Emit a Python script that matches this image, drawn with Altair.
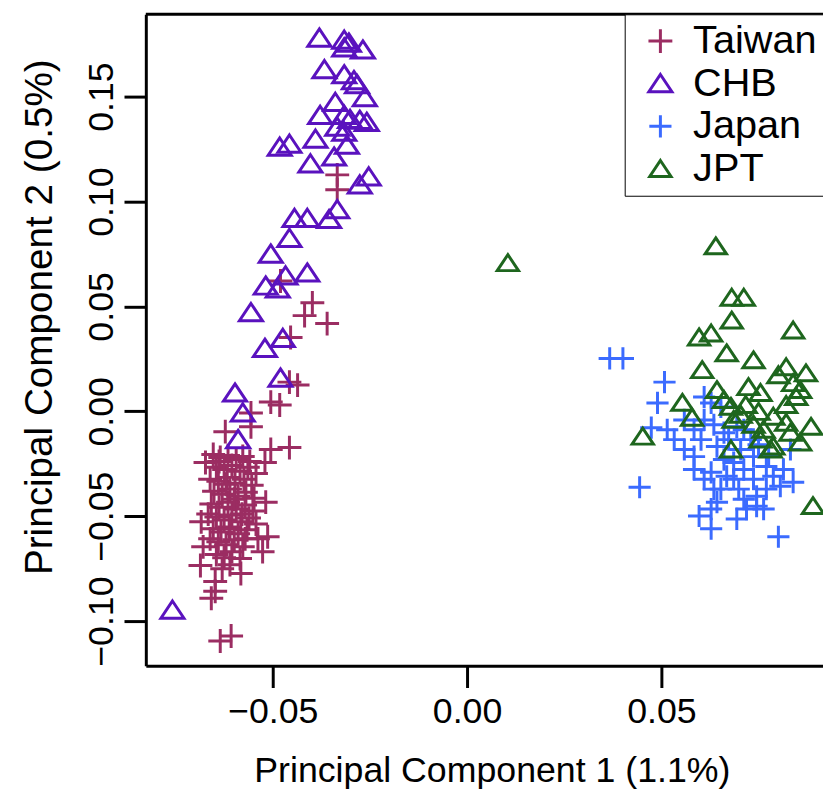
import altair as alt
import pandas as pd

groups = ["Taiwan", "CHB", "Japan", "JPT"]
colors = ["#9B2D62", "#5A12BE", "#3B6BFF", "#1E661E"]

taiwan_pc1 = [-0.0334, -0.0334, -0.0480, -0.0398, -0.0418, -0.0360, -0.0454, -0.0457, -0.0436, -0.0505,
              -0.0482, -0.0556, -0.0556, -0.0622, -0.0505, -0.0457, -0.0520, -0.0673, -0.0518, -0.0513,
              -0.0526, -0.0684, -0.0679, -0.0686, -0.0582, -0.0648, -0.0648, -0.0658, -0.0635, -0.0607,
              -0.0653, -0.0635, -0.0615, -0.0594, -0.0577, -0.0559, -0.0645, -0.0625, -0.0605, -0.0584,
              -0.0564, -0.0543, -0.0661, -0.0640, -0.0617, -0.0597, -0.0574, -0.0554, -0.0651, -0.0630,
              -0.0610, -0.0589, -0.0569, -0.0548, -0.0658, -0.0638, -0.0615, -0.0594, -0.0571, -0.0551,
              -0.0645, -0.0625, -0.0605, -0.0582, -0.0561, -0.0653, -0.0633, -0.0612, -0.0589, -0.0566,
              -0.0640, -0.0620, -0.0599, -0.0577, -0.0645, -0.0625, -0.0605, -0.0584, -0.0630, -0.0610,
              -0.0661, -0.0543, -0.0538, -0.0620, -0.0599, -0.0579, -0.0610, -0.0638, -0.0571, -0.0666]
taiwan_pc2 = [0.1127, 0.1056, 0.0621, 0.0517, 0.0456, 0.0418, 0.0352, 0.0139, 0.0125, 0.0044,
              0.0030, -0.0008, -0.0074, -0.0097, -0.0182, -0.0173, -0.0244, -0.0244, -0.0433, -0.0598,
              -0.0669, -0.0527, -0.0646, -0.0735, -0.0773, -0.0811, -0.0858, -0.0891, -0.1095, -0.1071,
              -0.0206, -0.0220, -0.0211, -0.0230, -0.0215, -0.0239, -0.0267, -0.0277, -0.0258, -0.0286,
              -0.0267, -0.0296, -0.0324, -0.0334, -0.0315, -0.0343, -0.0324, -0.0353, -0.0381, -0.0395,
              -0.0371, -0.0405, -0.0386, -0.0414, -0.0442, -0.0457, -0.0433, -0.0466, -0.0447, -0.0475,
              -0.0504, -0.0518, -0.0494, -0.0527, -0.0509, -0.0560, -0.0575, -0.0551, -0.0584, -0.0565,
              -0.0622, -0.0636, -0.0612, -0.0646, -0.0683, -0.0698, -0.0669, -0.0702, -0.0750, -0.0731,
              -0.0608, -0.0537, -0.0608, -0.0348, -0.0419, -0.0490, -0.0560, -0.0239, -0.0608, -0.0490]

chb_pc1 = [-0.0380, -0.0316, -0.0304, -0.0316, -0.0268, -0.0367, -0.0316, -0.0291, -0.0283, -0.0263,
           -0.0339, -0.0378, -0.0316, -0.0301, -0.0276, -0.0258, -0.0334, -0.0316, -0.0390, -0.0482,
           -0.0457, -0.0309, -0.0342, -0.0403, -0.0253, -0.0276, -0.0334, -0.0444, -0.0411, -0.0355,
           -0.0457, -0.0505, -0.0467, -0.0411, -0.0518, -0.0487, -0.0556, -0.0474, -0.0520, -0.0480,
           -0.0597, -0.0577, -0.0589, -0.0758]
chb_pc2 = [0.1779, 0.1769, 0.1755, 0.1732, 0.1722, 0.1628, 0.1604, 0.1576, 0.1557, 0.1495,
           0.1472, 0.1410, 0.1410, 0.1391, 0.1387, 0.1377, 0.1354, 0.1330, 0.1297, 0.1259,
           0.1273, 0.1268, 0.1212, 0.1179, 0.1117, 0.1079, 0.0961, 0.0919, 0.0919, 0.0914,
           0.0824, 0.0749, 0.0645, 0.0659, 0.0597, 0.0583, 0.0470, 0.0347, 0.0300, 0.0158,
           0.0087, -0.0008, -0.0135, -0.0948]

japan_pc1 = [0.0367, 0.0401, 0.0508, 0.0490, 0.0474, 0.0444, 0.0515, 0.0533, 0.0559, 0.0584,
             0.0602, 0.0610, 0.0628, 0.0653, 0.0661, 0.0643, 0.0694, 0.0704, 0.0730, 0.0737,
             0.0770, 0.0712, 0.0686, 0.0668, 0.0737, 0.0770, 0.0719, 0.0745, 0.0694, 0.0643,
             0.0628, 0.0806, 0.0832, 0.0628, 0.0635, 0.0597, 0.0628, 0.0801, 0.0839, 0.0788,
             0.0712, 0.0745, 0.0653, 0.0686, 0.0559, 0.0584, 0.0610, 0.0635, 0.0673, 0.0712,
             0.0750, 0.0776, 0.0661, 0.0699, 0.0610, 0.0584, 0.0763, 0.0814]
japan_pc2 = [0.0252, 0.0252, 0.0139, 0.0040, -0.0078, -0.0362, -0.0088, -0.0135, -0.0182, -0.0216,
             -0.0135, 0.0068, 0.0040, 0.0021, -0.0102, -0.0168, -0.0074, -0.0182, -0.0135, -0.0216,
             -0.0263, -0.0277, -0.0244, -0.0310, -0.0324, -0.0371, -0.0466, -0.0452, -0.0513, -0.0433,
             -0.0466, -0.0357, -0.0182, -0.0291, -0.0371, -0.0499, -0.0560, -0.0598, -0.0338, -0.0310,
             -0.0419, -0.0405, -0.0371, -0.0324, -0.0041, -0.0088, -0.0041, -0.0064, -0.0135, -0.0088,
             -0.0159, -0.0206, -0.0230, -0.0371, -0.0324, -0.0277, -0.0466, -0.0277]

jpt_pc1 = [0.0105, 0.0640, 0.0681, 0.0712, 0.0681, 0.0597, 0.0628, 0.0839, 0.0668, 0.0737,
           0.0605, 0.0821, 0.0872, 0.0801, 0.0643, 0.0724, 0.0755, 0.0839, 0.0857, 0.0554,
           0.0579, 0.0679, 0.0704, 0.0750, 0.0788, 0.0821, 0.0885, 0.0452, 0.0679, 0.0755,
           0.0788, 0.0857, 0.0832, 0.0890, 0.0686, 0.0821, 0.0847, 0.0781, 0.0717, 0.0737,
           0.0763, 0.0661]
jpt_pc2 = [0.0706, 0.0786, 0.0541, 0.0541, 0.0432, 0.0352, 0.0371, 0.0385, 0.0276, 0.0243,
           0.0196, 0.0210, 0.0181, 0.0172, 0.0101, 0.0115, 0.0087, 0.0134, 0.0101, 0.0040,
           -0.0031, 0.0021, -0.0017, -0.0003, -0.0026, 0.0030, -0.0074, -0.0121, -0.0182, -0.0135,
           -0.0168, -0.0149, -0.0102, -0.0452, -0.0041, -0.0055, 0.0068, -0.0182, 0.0030, -0.0064,
           -0.0088, 0.0054]

rows = []
for g, xs, ys in [("Taiwan", taiwan_pc1, taiwan_pc2), ("CHB", chb_pc1, chb_pc2),
                  ("Japan", japan_pc1, japan_pc2), ("JPT", jpt_pc1, jpt_pc2)]:
    for a, b in zip(xs, ys):
        rows.append({"group": g, "pc1": a, "pc2": b})
df = pd.DataFrame(rows)

W, H = 683, 657
CROSS = "M-1,0L1,0M0,-1L0,1"
TRI = "M0,-0.8L1,0.7L-1,0.7Z"
FONT = "Liberation Sans"

legend = alt.Legend(title=None, orient="none", legendX=483, legendY=0,
                    strokeColor="black", fillColor="white", padding=7,
                    labelFont=FONT, labelFontSize=40, labelColor="black",
                    labelExpr="datum.label + '        '",
                    symbolSize=650, symbolStrokeWidth=3, rowPadding=3,
                    labelOffset=13, symbolOffset=9, labelLimit=0)

points = alt.Chart(df).mark_point(filled=False, strokeWidth=3, opacity=1).encode(
    x=alt.X("pc1:Q",
            scale=alt.Scale(domain=[-0.08265, 0.09158], nice=False, zero=False),
            axis=alt.Axis(values=[-0.05, 0.0, 0.05], format=".2f",
                          title="Principal Component 1 (1.1%)",
                          titleX=349, titleY=117, titleAlign="center",
                          titleBaseline="alphabetic", labelPadding=7)),
    y=alt.Y("pc2:Q",
            scale=alt.Scale(domain=[-0.12127, 0.18923], nice=False, zero=False),
            axis=alt.Axis(values=[-0.10, -0.05, 0.0, 0.05, 0.10, 0.15], format=".2f",
                          title="Principal Component 2 (0.5%)",
                          labelAngle=270, labelAlign="center", labelBaseline="alphabetic",
                          labelPadding=12,
                          titleAngle=270, titleX=-95, titleY=305, titleAlign="center",
                          titleBaseline="alphabetic", titleFontSize=39)),
    color=alt.Color("group:N", scale=alt.Scale(domain=groups, range=colors), legend=legend),
    shape=alt.Shape("group:N", scale=alt.Scale(domain=groups, range=[CROSS, TRI, CROSS, TRI]),
                    legend=legend),
    size=alt.Size("group:N", scale=alt.Scale(domain=groups, range=[580, 460, 580, 460]),
                  legend=None),
)

frame = alt.Chart(pd.DataFrame({"k": [0]})).mark_rule(color="black", strokeWidth=3).encode(
    x=alt.value(0), x2=alt.value(W), y=alt.value(0)
)

chart = alt.layer(points, frame).properties(
    width=W, height=H,
    autosize=alt.AutoSizeParams(type="none"),
    padding={"left": 139, "top": 3, "right": 0, "bottom": 123},
).configure_view(strokeWidth=0).configure_axis(
    grid=False, domainColor="black", domainWidth=3,
    tickColor="black", tickWidth=3, tickSize=22,
    labelFont=FONT, labelFontSize=36, labelColor="black",
    titleFont=FONT, titleFontSize=36, titleFontWeight="normal", titleColor="black",
)

chart.save("out.html", embed_options={"renderer": "svg", "actions": False})
